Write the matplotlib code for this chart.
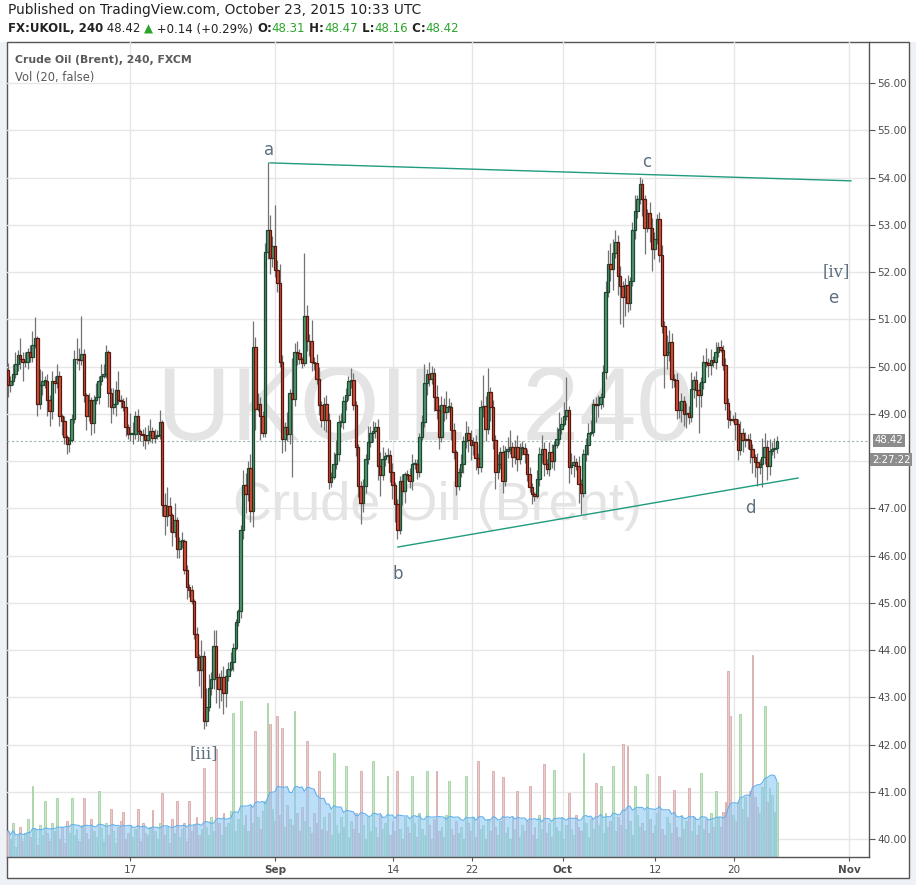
import matplotlib
matplotlib.use("Agg")
import numpy as np
import pandas as pd
import matplotlib.pyplot as plt
from matplotlib.patches import Rectangle

# === datos: velas de 4h (FXCM UKOIL) ===
first_open = 49.92

close_aug = [49.61, 49.70, 49.85, 50.05, 50.25, 50.15, 50.10, 50.10, 50.30, 50.20,
             50.45, 50.60, 49.20, 49.60, 49.70, 49.70, 49.30, 49.05, 49.70, 49.65,
             49.80, 48.95, 48.85, 48.50, 48.35, 48.45, 48.90, 50.15, 50.15, 50.13,
             50.27, 49.40, 48.95, 49.30, 48.80, 49.30, 49.35, 49.70, 49.80, 49.85,
             50.30, 49.45, 49.15, 49.20, 49.50, 49.30, 49.28, 49.15, 48.73, 48.57,
             48.57, 48.57, 48.96, 48.63, 48.57, 48.56, 48.45, 48.56, 48.63, 48.49,
             48.52, 48.56, 48.82, 47.08, 46.83, 47.04, 46.85, 46.50, 46.76, 46.14,
             46.30, 46.30, 45.70, 45.34, 45.27, 45.03, 44.33, 43.86, 43.58, 43.87,
             42.50, 42.80, 43.20, 43.38, 44.08, 43.42, 43.17, 43.42, 43.10, 43.45,
             43.60, 43.75, 44.05, 44.60, 44.82, 46.55, 47.50, 47.30, 47.85, 46.95,
             50.42, 49.10, 49.20, 48.95, 48.60]
close_sep = [52.42, 52.90, 52.30, 52.56, 52.05, 51.77, 50.10, 48.47, 48.73, 48.57,
             49.43, 49.32, 50.30, 50.28, 50.15, 50.07, 51.06, 50.53, 50.53, 50.10,
             50.07, 49.74, 49.18, 48.86, 49.20, 48.87, 47.55, 47.67, 47.94, 48.15,
             48.82, 48.82, 49.28, 49.39, 49.70, 49.72, 49.18, 48.30, 47.48, 47.12,
             47.48, 48.04, 48.40, 48.60, 48.64, 48.73, 47.90, 47.70, 48.04, 48.10,
             48.13, 47.76, 47.50, 47.10, 46.55, 47.58, 47.37, 47.72, 47.70, 47.58,
             47.94, 47.94, 47.76, 48.50, 48.82, 49.65, 49.85, 49.74, 49.86, 49.35,
             49.08, 48.50, 49.18, 49.04, 49.14, 49.14, 48.65, 48.19, 47.48, 47.76,
             47.94, 48.43, 48.60, 48.45, 48.33, 48.40, 48.06, 47.87, 49.14, 49.17,
             48.68, 49.46, 49.14, 48.45, 47.76, 47.94, 48.19, 47.58, 48.22, 48.25,
             48.30, 48.08, 48.30, 48.04, 48.28, 48.28, 48.15]
close_oct = [47.72, 47.44, 47.30, 47.26, 47.62, 48.15, 48.26, 47.94, 47.83, 48.20,
             48.00, 48.33, 48.47, 48.68, 48.79, 48.96, 49.07, 47.88, 47.92, 47.97,
             47.90, 47.51, 47.33, 48.15, 48.33, 48.60, 48.62, 49.21, 49.18, 49.20,
             49.35, 49.89, 51.57, 52.16, 52.06, 52.40, 52.63, 51.92, 51.70, 51.48,
             51.73, 51.35, 51.80, 52.90, 53.29, 53.54, 53.86, 53.54, 52.94, 53.24,
             52.94, 52.48, 52.69, 53.13, 52.37, 50.86, 50.24, 50.31, 50.52, 49.74,
             49.72, 49.08, 49.07, 49.28, 49.00, 49.02, 48.93, 49.53, 49.71, 49.50,
             49.39, 49.67, 50.10, 50.08, 50.03, 50.13, 50.10, 50.31, 50.42, 50.36,
             50.03, 49.23, 48.89, 48.87, 48.88, 48.79, 48.23, 48.60, 48.45, 48.47,
             48.45, 48.26, 48.09, 47.97, 47.87, 47.94, 48.08, 48.30, 47.90, 48.22,
             48.26, 48.28, 48.42]

# mecha superior / inferior (USD por encima / debajo del cuerpo)
upw_aug = [.15, .10, .20, .25, .10, .35, .15, .20, .10, .15,
           .30, .45, .05, .35, .20, .10, .15, .10, .20, .10,
           .25, .10, .05, .10, .05, .05, .10, .20, .45, .25,
           .80, .10, .05, .15, .05, .10, .30, .10, .25, .20,
           .15, .05, .10, .35, .20, .40, .10, .05, .20, .05,
           .45, .25, .10, .15, .05, .10, .15, .20, .25, .10,
           .15, .10, .25, .05, .25, .40, .20, .05, .35, .05,
           .10, .20, .05, .10, .05, .10, .05, .15, .05, .35,
           .10, .40, .30, .15, .35, .35, .10, .15, .25, .15,
           .15, .20, .10, .05, .05, .10, .30, .25, .15, .30,
           .55, .20, .25, .15, .10]
upw_sep = [.20, 1.43, .30, .20, .85, .20, .40, .15, .10, .30,
           .10, .75, .20, .25, .10, .05, 1.35, .25, .15, .45,
           .10, .20, .25, .10, .15, .20, .15, .10, .25, .30,
           .15, .20, .10, .15, .10, .25, .15, .10, .05, .10,
           .15, .10, .35, .15, .20, .10, .15, .30, .25, .10,
           .15, .10, .20, .05, .10, .10, .15, .05, .10, .15,
           .20, .10, .10, .10, .15, .40, .10, .25, .15, .10,
           .25, .10, .20, .15, .35, .20, .10, .15, .05, .10,
           .20, .10, .25, .15, .20, .10, .15, .10, .15, .65,
           .20, .50, .10, .15, .10, .20, .10, .15, .10, .25,
           .35, .10, .15, .25, .10, .15, .10]
upw_oct = [.10, .15, .10, .05, .20, .15, .30, .15, .10, .20,
           .15, .10, .25, .35, .15, .30, .70, .10, .25, .15,
           .10, .20, .10, .10, .15, .20, .25, .10, .15, .20,
           .10, .15, .25, .30, .45, .30, .25, .15, .20, .10,
           .15, .20, .10, .15, .35, .10, .15, .10, .10, .10,
           .25, .20, .15, .10, .15, .20, .10, .35, .25, .20,
           .10, .15, .20, .15, .10, .20, .15, .35, .10, .20,
           .15, .10, .15, .30, .10, .25, .10, .20, .10, .15,
           .10, .15, .10, .20, .10, .15, .10, .25, .10, .15,
           .10, .15, .10, .05, .20, .10, .40, .30, .15, .25,
           .15, .20, .10]
low_aug = [.25, .15, .10, .10, .15, .20, .40, .10, .15, .10,
           .10, .05, .25, .10, .20, .15, .35, .30, .15, .20,
           .10, .20, .30, .15, .20, .15, .05, .10, .10, .20,
           .10, .15, .30, .10, .25, .20, .10, .15, .10, .05,
           .10, .30, .35, .15, .25, .10, .15, .10, .20, .10,
           .15, .20, .10, .20, .15, .25, .20, .10, .15, .10,
           .10, .05, .10, .25, .40, .20, .35, .30, .10, .20,
           .20, .15, .10, .25, .15, .05, .10, .30, .35, .60,
           .18, .10, .10, .15, .20, .55, .40, .25, .45, .30,
           .10, .05, .20, .05, .10, .15, .20, .40, .15, .25,
           .35, .45, .05, .50, .10]
low_sep = [.10, .15, .35, .20, .15, .20, .10, .30, .25, .15,
           .20, 1.65, .15, .25, .10, .10, .05, .20, .30, .20,
           .15, .10, .20, .15, .20, .25, .15, .10, .05, .10,
           .15, .10, .15, .20, .10, .15, .10, .20, .25, .45,
           .20, .15, .10, .10, .20, .15, .30, .45, .10, .15,
           .15, .20, .30, .40, .20, .10, .30, .25, .10, .15,
           .20, .10, .15, .10, .05, .10, .25, .15, .10, .30,
           .20, .25, .10, .20, .15, .10, .20, .15, .20, .10,
           .10, .20, .15, .25, .30, .20, .25, .15, .10, .20,
           .25, .10, .30, .20, .35, .15, .10, .25, .10, .15,
           .10, .20, .15, .25, .10, .15, .20]
low_oct = [.15, .10, .20, .10, .05, .15, .20, .25, .10, .15,
           .15, .20, .05, .10, .10, .05, .10, .35, .15, .25,
           .10, .40, .45, .10, .15, .20, .05, .10, .35, .25,
           .10, .20, .15, .10, .25, .45, .10, .40, .80, .65,
           .40, .20, .15, .10, .20, .15, .10, .35, .55, .10,
           .30, .45, .20, .10, .15, .15, .70, .30, .20, .20,
           .15, .20, .15, .25, .25, .30, .15, .10, .20, .35,
           .80, .25, .15, .10, .25, .20, .10, .15, .10, .05,
           .10, .15, .20, .10, .05, .35, .20, .10, .25, .15,
           .20, .30, .35, .30, .40, .15, .50, .15, .30, .20,
           .10, .20, .10]

volume = [26, 18, 34, 10, 22, 30, 16, 24, 38, 20,
          71, 28, 12, 32, 22, 56, 24, 16, 34, 26,
          59, 18, 30, 14, 36, 24, 59, 22, 28, 16,
          32, 59, 24, 18, 38, 26, 20, 66, 29, 16,
          34, 22, 48, 26, 14, 30, 36, 45, 18, 24,
          32, 20, 28, 48, 16, 34, 24, 22, 30, 47,
          26, 18, 34, 64, 22, 30, 14, 38, 24, 56,
          20, 28, 34, 16, 56, 26, 32, 40, 22, 28,
          89, 30, 22, 40, 26, 108, 34, 22, 44, 30,
          34, 46, 144, 26, 38, 156, 32, 42, 26, 52,
          34, 126, 40, 28, 46, 56, 154, 133, 48, 36,
          141, 42, 129, 30, 52, 38, 32, 146, 44, 26,
          50, 36, 116, 30, 24, 44, 34, 86, 28, 40,
          26, 44, 22, 104, 32, 24, 40, 30, 91, 20,
          36, 28, 44, 24, 86, 32, 18, 40, 26, 96,
          30, 20, 42, 28, 34, 81, 22, 36, 26, 86,
          28, 18, 40, 30, 24, 81, 34, 20, 44, 28,
          22, 86, 32, 18, 38, 86, 26, 30, 20, 42,
          76, 28, 22, 36, 24, 30, 18, 81, 34, 26,
          40, 20, 96, 28, 32, 18, 38, 26, 86, 30,
          22, 36, 80, 24, 30, 18, 40, 28, 66, 20,
          32, 26, 36, 71, 22, 30, 18, 42, 28, 93,
          24, 34, 20, 87, 30, 26, 40, 18, 32, 64,
          28, 22, 42, 30, 26, 104, 34, 20, 38, 28,
          74, 32, 71, 24, 44, 30, 36, 91, 26, 40,
          32, 113, 28, 111, 36, 22, 71, 42, 30, 34,
          26, 83, 38, 24, 32, 44, 81, 28, 22, 40,
          34, 24, 67, 30, 20, 42, 28, 36, 69, 26,
          40, 22, 32, 84, 28, 38, 24, 44, 30, 66,
          40, 30, 45, 55, 186, 141, 42, 36, 55, 143,
          48, 60, 40, 66, 202, 60, 50, 44, 70, 151,
          55, 69, 62, 45, 75]

# eje de tiempo (posición en nº de vela)
tick_pos = [49.8, 109.0, 157.2, 189.5, 226.6, 264.2, 296.4, 343.4]
tick_lbl = ["17", "Sep", "14", "22", "Oct", "12", "20", "Nov"]
price_ticks = list(range(40, 57))

# ondas (Elliott) y líneas de tendencia
wave_lbl = ["a", "b", "c", "d", "e", "[iii]", "[iv]"]
wave_x = [106.6, 159.2, 260.9, 303.0, 336.9, 80.0, 338.1]
wave_y = [54.58, 45.61, 54.33, 47.00, 51.45, 41.80, 52.00]
upper_line = ([107.0, 344.2], [54.31, 53.93])
lower_line = ([159.2, 322.6], [46.18, 47.64])

# === preparar OHLC ===
closes = np.array(close_aug + close_sep + close_oct)
opens = np.concatenate([[first_open], closes[:-1]])
highs = np.maximum(opens, closes) + np.array(upw_aug + upw_sep + upw_oct)
lows = np.minimum(opens, closes) - np.array(low_aug + low_sep + low_oct)
idx = np.arange(len(closes))
up = closes >= opens
vol = np.array(volume, dtype=float)
vol_ma = pd.Series(vol).rolling(20, min_periods=1).mean()

W, H = 916, 885
fig = plt.figure(figsize=(W / 100, H / 100), dpi=100, facecolor="#eef1f5")

def fx(px):
    return px / W

def fy(py):
    return 1 - py / H

# fondo blanco de cabecera y marco del gráfico (por debajo de los ejes)
fig.patches.append(Rectangle((0, fy(41.7)), 1, 1 - fy(41.7), transform=fig.transFigure,
                             facecolor="white", edgecolor="none", zorder=-2))
fig.patches.append(Rectangle((fx(6.7), fy(877.7)), fx(909) - fx(6.7), fy(41.7) - fy(877.7),
                             transform=fig.transFigure, facecolor="white",
                             edgecolor="#555555", linewidth=1.0, zorder=-1))

ymin, ymax = 39.626, 56.875
ax = fig.add_axes([fx(6.7), fy(856.7), fx(869) - fx(6.7), fy(41.7) - fy(856.7)])
ax.set_facecolor("none")
ax.set_xlim(-0.53, 351.6)
ax.set_ylim(ymin, ymax)

# volumen en eje gemelo
ax2 = ax.twinx()
ax2.set_ylim(0, 815)
ax2.set_yticks([])
for s in ax2.spines.values():
    s.set_visible(False)

def to_vol(p):
    return (p - ymin) / (ymax - ymin) * 815

# rejilla y marca de agua (en el eje de abajo)
for p in price_ticks:
    ax2.axhline(to_vol(p), color="#e6e6e6", lw=1, zorder=0)
for t in tick_pos:
    ax2.axvline(t, color="#e6e6e6", lw=1, zorder=0)
ax2.text(170.3, to_vol(49.02), "UKOIL, 240", fontsize=74,
         color="#e4e4e4", ha="center", va="center", family="Liberation Sans", zorder=0.5)
ax2.text(175.2, to_vol(47.05), "Crude Oil (Brent)", fontsize=39,
         color="#e4e4e4", ha="center", va="center", family="Liberation Sans", zorder=0.5)

vcol = np.where(up, "#c6e5c6", "#ebcccc")
vedge = np.where(up, "#a3d1a3", "#d9a9a9")
ax2.bar(idx, vol, width=0.75, color=vcol, edgecolor=vedge, linewidth=0.6, zorder=1)
ax2.fill_between(idx, vol_ma, color="#8ec8f5", alpha=0.6, lw=0, zorder=2)
ax2.plot(idx, vol_ma, color="#62b2ee", lw=0.8, zorder=2)

# velas
ax.set_zorder(ax2.get_zorder() + 1)
ax.vlines(idx, lows, highs, color="#737373", lw=0.9, zorder=2)
body_lo = np.minimum(opens, closes)
body_h = np.maximum(np.abs(closes - opens), 0.02)
ax.bar(idx[up], body_h[up], bottom=body_lo[up], width=1.0, color="#55976f",
       edgecolor="#1c4a30", linewidth=0.9, zorder=3)
ax.bar(idx[~up], body_h[~up], bottom=body_lo[~up], width=1.0, color="#d4503c",
       edgecolor="#561910", linewidth=0.9, zorder=3)

# precio actual
last = closes[-1]
ax.axhline(last, color="#9db5b0", lw=0.8, ls=(0, (2, 2)), zorder=1)

# líneas de tendencia
ax.plot(*upper_line, color="#1f9b7f", lw=1.0, zorder=4)
ax.plot(*lower_line, color="#1f9b7f", lw=1.0, zorder=4)

# etiquetas de ondas
for lbl, x, y in zip(wave_lbl, wave_x, wave_y):
    fam = "DejaVu Serif" if lbl.startswith("[") else "DejaVu Sans"
    ax.text(x, y, lbl, fontsize=12, color="#5d6f80", ha="center", va="center", family=fam,
            zorder=5)

# ejes (la etiqueta 48.00 queda tapada por la caja del precio actual)
ax.yaxis.tick_right()
ax.set_yticks(price_ticks)
ax.set_yticklabels(["" if p == 48 else f"{p:.2f}" for p in price_ticks])
ax.tick_params(axis="y", direction="out", length=4, width=0.8, color="#555555",
               labelsize=7.5, labelcolor="#4d4d4d", pad=2)
ax.set_xticks(tick_pos)
ax.set_xticklabels(tick_lbl)
ax.tick_params(axis="x", direction="out", length=3, width=0.8, color="#555555",
               labelsize=7.5, labelcolor="#4d4d4d", pad=3)
for t in ax.get_xticklabels():
    if t.get_text() in ("Sep", "Oct", "Nov"):
        t.set_fontweight("bold")
for k in ("left", "top"):
    ax.spines[k].set_visible(False)
for k in ("right", "bottom"):
    ax.spines[k].set_color("#555555")
    ax.spines[k].set_linewidth(1.0)

# caja de último precio
box = dict(boxstyle="square,pad=0.15", fc="#8c8c8c", ec="none")
ax.annotate(f"{last:.2f}", xy=(1, last), xycoords=("axes fraction", "data"),
            xytext=(4, 0.5), textcoords="offset points", ha="left", va="center",
            fontsize=7.3, color="white", bbox=box, zorder=6, annotation_clip=False)
ax.annotate("2:27:22", xy=(1, last), xycoords=("axes fraction", "data"),
            xytext=(2, -13.5), textcoords="offset points", ha="left", va="center",
            fontsize=7.3, color="white", bbox=box, zorder=6, annotation_clip=False)

# textos dentro del gráfico
fig.text(fx(15), fy(60), "Crude Oil (Brent), 240, FXCM", fontsize=7.8, fontweight="bold",
         color="#5a5a5a", va="center")
fig.text(fx(15), fy(77), "Vol (20, false)", fontsize=8.3, color="#5a5a5a", va="center")

# cabecera
fig.text(fx(8), fy(10), "Published on TradingView.com, October 23, 2015 10:33 UTC",
         fontsize=9.9, color="#222222", va="center")

renderer = fig.canvas.get_renderer()
parts = [("FX:UKOIL, 240", "#222222", "bold"), (" 48.42 ", "#222222", "normal"),
         ("\u25b2", "#2aa52a", "normal"), (" +0.14 (+0.29%) ", "#222222", "normal"),
         ("O:", "#222222", "bold"), ("48.31", "#2aa52a", "normal"),
         (" H:", "#222222", "bold"), ("48.47", "#2aa52a", "normal"),
         (" L:", "#222222", "bold"), ("48.16", "#2aa52a", "normal"),
         (" C:", "#222222", "bold"), ("48.42", "#2aa52a", "normal")]
xpos = fx(8)
for txt, col, wt in parts:
    t = fig.text(xpos, fy(29), txt, fontsize=8.5, color=col, fontweight=wt, va="center")
    bb = t.get_window_extent(renderer)
    xpos += bb.width / W

fig.savefig("out.png", dpi=100, facecolor=fig.get_facecolor())
